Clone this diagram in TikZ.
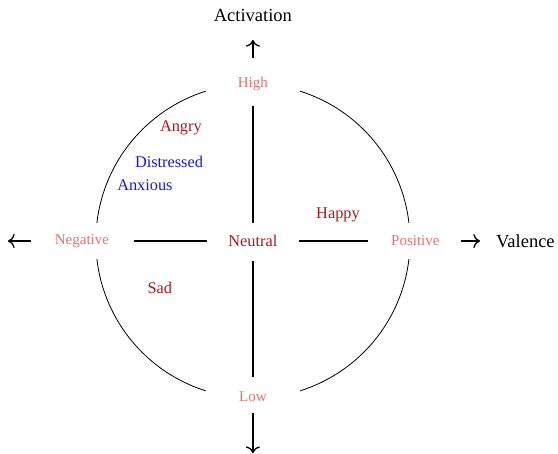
\documentclass[tikz,border=0pt]{standalone}
\usepackage{fontspec}
\setmainfont{Liberation Serif}
\usetikzlibrary{arrows.meta}
\definecolor{poleRed}{RGB}{232,112,112}
\definecolor{moodRed}{RGB}{172,22,28}
\definecolor{moodBlue}{RGB}{20,20,245}

\begin{document}
\begin{tikzpicture}[x=1cm,y=1cm,>={To[scale=1.5]},
    pole/.style={text=poleRed,font=\fontsize{15bp}{18bp}\selectfont},
    mood/.style={text=moodRed,font=\fontsize{16.3bp}{19bp}\selectfont},
    axisname/.style={font=\fontsize{18.5bp}{22bp}\selectfont},
    axisline/.style={line width=1.3bp}]
    \useasboundingbox (-8.92,-7.51) rectangle (10.76,8.50);
    % circle, broken at the four poles
    \foreach \s/\e in {6.6/72.5,107.5/173.4,186.6/252.5,287.5/353.4}
      \draw[line width=0.8bp] (\s:5.54) arc[start angle=\s,end angle=\e,radius=5.54];
    \node[mood] (Neutral) at (0,0) {Neutral};
    \node[pole] (High) at (0,5.54) {High};
    \node[pole] (Low) at (0,-5.50) {Low};
    \node[pole] (Negative) at (-6.03,0) {Negative};
    \node[pole] (Positive) at (5.73,0) {Positive};
    \node[axisname] (Activation) at (0,7.97) {Activation};
    \node[axisname] (Valence) at (9.61,0) {Valence};
    \coordinate (leftEnd) at (-8.64,0);
    \coordinate (downEnd) at (0,-7.48);
    \node[mood] (Angry) at (-2.54,3.99) {Angry};
    \node[mood,text=moodBlue] (Distressed) at (-2.96,2.79) {Distressed};
    \node[mood,text=moodBlue] (Anxious) at (-3.81,1.98) {Anxious};
    \node[mood] (Happy) at (3.0,0.92) {Happy};
    \node[mood] (Sad) at (-3.28,-1.66) {Sad};
    % axes
    \draw[axisline,->,shorten <=0.92cm,shorten >=0.88cm] (High.center) -- (Activation.center);
    \draw[axisline,shorten <=0.78cm,shorten >=0.63cm] (High.center) -- (Neutral.center);
    \draw[axisline,shorten <=0.71cm,shorten >=0.71cm] (Neutral.center) -- (Low.center);
    \draw[axisline,->,shorten <=0.56cm] (Low.center) -- (downEnd);
    \draw[axisline,->,shorten <=1.80cm] (Negative.center) -- (leftEnd);
    \draw[axisline,shorten <=1.83cm,shorten >=1.62cm] (Negative.center) -- (Neutral.center);
    \draw[axisline,shorten <=1.62cm,shorten >=1.68cm] (Neutral.center) -- (Positive.center);
    \draw[axisline,->,shorten <=1.60cm,shorten >=1.60cm] (Positive.center) -- (Valence.center);
\end{tikzpicture}
\end{document}
